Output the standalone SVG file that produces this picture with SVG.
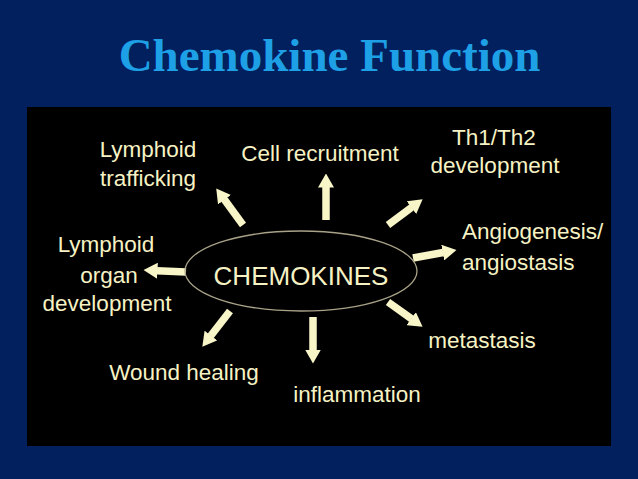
<svg xmlns="http://www.w3.org/2000/svg" width="638" height="479" viewBox="0 0 638 479">
<style>
.lbl{font-family:"Liberation Sans",Arial,sans-serif;font-size:22.5px;fill:#f6f2c4;text-anchor:middle}
.arr{stroke:#f8f5c8;stroke-width:7.5;fill:none;marker-end:url(#ah)}
</style>
<defs>
<marker id="ah" viewBox="0 0 14 16" markerUnits="userSpaceOnUse" markerWidth="14" markerHeight="16" refX="0.5" refY="8" orient="auto">
<path d="M0,0 L14,8 L0,16 z" fill="#f8f5c8"/>
</marker>
</defs>
<rect width="638" height="479" fill="#03205e"/>
<text x="329.5" y="71" font-family="Liberation Serif,'Times New Roman',serif" font-weight="bold" font-size="47" fill="#1ea0e6" text-anchor="middle">Chemokine Function</text>
<rect x="27" y="107" width="584" height="339" fill="#000"/>
<g id="connectors">
<line class="arr" x1="326" y1="220" x2="326" y2="187"/>
<line class="arr" x1="243" y1="225" x2="224.2" y2="199.3"/>
<line class="arr" x1="388" y1="225" x2="411.8" y2="207.3"/>
<line class="arr" x1="413" y1="258" x2="443.2" y2="252.5"/>
<line class="arr" x1="388" y1="302" x2="411.6" y2="318.9"/>
<line class="arr" x1="313" y1="317" x2="313" y2="350"/>
<line class="arr" x1="230" y1="311" x2="210.6" y2="336"/>
<line class="arr" x1="186" y1="272" x2="157" y2="270.7"/>
</g>
<g id="chemokines">
<ellipse cx="301" cy="271" rx="116" ry="40" fill="none" stroke="#a8a288" stroke-width="1.3"/>
<text class="lbl" x="301" y="285" style="font-size:26px">CHEMOKINES</text>
</g>
<g id="lymphoid-trafficking"><text class="lbl" x="148" y="157">Lymphoid</text><text class="lbl" x="148" y="186">trafficking</text></g>
<g id="cell-recruitment"><text class="lbl" x="320" y="161">Cell recruitment</text></g>
<g id="th1-th2"><text class="lbl" x="494" y="145">Th1/Th2</text><text class="lbl" x="495" y="173">development</text></g>
<g id="angiogenesis"><text class="lbl" x="462" y="239" style="text-anchor:start">Angiogenesis/</text><text class="lbl" x="462" y="270" style="text-anchor:start">angiostasis</text></g>
<g id="lymphoid-organ"><text class="lbl" x="106" y="252">Lymphoid</text><text class="lbl" x="109" y="283">organ</text><text class="lbl" x="107" y="311">development</text></g>
<g id="wound-healing"><text class="lbl" x="184" y="380">Wound healing</text></g>
<g id="inflammation"><text class="lbl" x="357" y="402">inflammation</text></g>
<g id="metastasis"><text class="lbl" x="482" y="348">metastasis</text></g>
</svg>
